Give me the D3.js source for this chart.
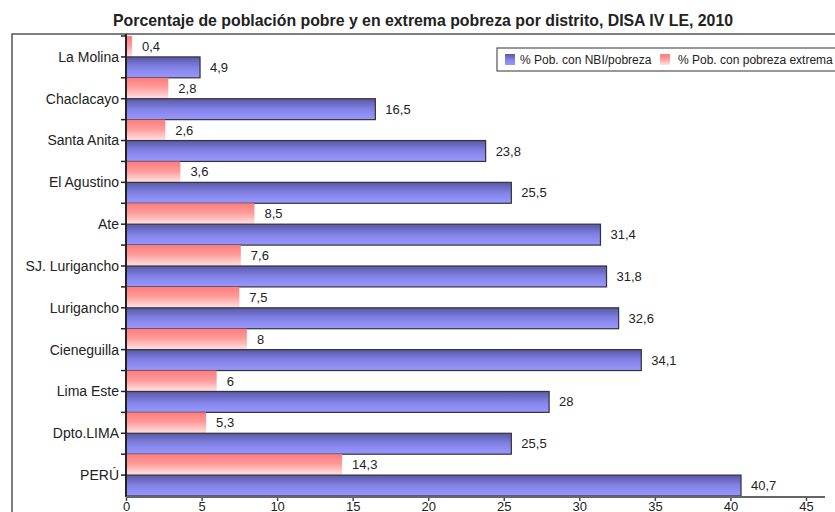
<!DOCTYPE html>
<html>
<head>
<meta charset="utf-8">
<script src="https://cdn.jsdelivr.net/npm/d3@7"></script>
<style>
  body { margin: 0; background: #fff; }
  svg { display: block; font-family: "Liberation Sans", Arial, sans-serif; }
</style>
</head>
<body>
<div id="chart"></div>
<script>
// Data
const districts = ["La Molina", "Chaclacayo", "Santa Anita", "El Agustino", "Ate", "SJ. Lurigancho",
  "Lurigancho", "Cieneguilla", "Lima Este", "Dpto.LIMA", "PERÚ"];
const pobreza = [4.9, 16.5, 23.8, 25.5, 31.4, 31.8, 32.6, 34.1, 28, 25.5, 40.7];
const extrema = [0.4, 2.8, 2.6, 3.6, 8.5, 7.6, 7.5, 8, 6, 5.3, 14.3];
const xTicks = [0, 5, 10, 15, 20, 25, 30, 35, 40, 45];
const seriesNames = ["% Pob. con NBI/pobreza", "% Pob. con pobreza extrema"];

const W = 835, H = 512;
const margin = { top: 36, right: 29, bottom: 16, left: 126 };

const svg = d3.select("#chart").append("svg")
  .attr("width", W).attr("height", H);

const defs = svg.append("defs");
const blueGrad = defs.append("linearGradient").attr("id", "gBlue")
  .attr("x1", 0).attr("y1", 0).attr("x2", 0).attr("y2", 1);
blueGrad.append("stop").attr("offset", "0%").attr("stop-color", "#5858a8");
blueGrad.append("stop").attr("offset", "50%").attr("stop-color", "#8282e6");
blueGrad.append("stop").attr("offset", "100%").attr("stop-color", "#9898ff");
const redGrad = defs.append("linearGradient").attr("id", "gRed")
  .attr("x1", 0).attr("y1", 0).attr("x2", 0).attr("y2", 1);
redGrad.append("stop").attr("offset", "0%").attr("stop-color", "#ff7c7c");
redGrad.append("stop").attr("offset", "45%").attr("stop-color", "#ff9a9a");
redGrad.append("stop").attr("offset", "100%").attr("stop-color", "#ffe4e4");

// Title (narrow bold look)
svg.append("text")
  .attr("x", 113).attr("y", 26)
  .attr("textLength", 620)
  .attr("lengthAdjust", "spacingAndGlyphs")
  .style("font-family", "'Liberation Sans', Arial, sans-serif")
  .style("font-weight", "bold")
  .style("font-size", "17px")
  .attr("fill", "#222")
  .text("Porcentaje de población pobre y en extrema pobreza por distrito, DISA IV LE, 2010");

// Outer frame (top + left visible)
svg.append("path")
  .attr("d", `M12,${H} V34 H${W}`)
  .attr("fill", "none").attr("stroke", "#555").attr("stroke-width", 1.5);

const x = d3.scaleLinear().domain([0, 45]).range([margin.left, 806]);
const y = d3.scaleBand().domain(districts).range([margin.top, 496]).padding(0);
const half = y.bandwidth() / 2;

const rows = svg.selectAll("g.row")
  .data(districts)
  .join("g")
  .attr("class", "row")
  .attr("transform", d => `translate(0, ${y(d)})`);

// extreme poverty bar (top half)
rows.append("rect")
  .attr("x", x(0))
  .attr("y", 0)
  .attr("width", (d, i) => x(extrema[i]) - x(0))
  .attr("height", half)
  .attr("fill", "url(#gRed)");

// poverty bar (bottom half)
rows.append("rect")
  .attr("x", x(0))
  .attr("y", half)
  .attr("width", (d, i) => x(pobreza[i]) - x(0))
  .attr("height", half)
  .attr("fill", "url(#gBlue)")
  .attr("stroke", "#333")
  .attr("stroke-width", 1.2);

const fmt = v => String(v).replace(".", ",");

rows.append("text")
  .attr("x", (d, i) => x(extrema[i]) + 10)
  .attr("y", half / 2)
  .attr("dy", "0.35em")
  .style("font-size", "13px")
  .attr("fill", "#222")
  .text((d, i) => fmt(extrema[i]));

rows.append("text")
  .attr("x", (d, i) => x(pobreza[i]) + 10)
  .attr("y", half * 1.5)
  .attr("dy", "0.35em")
  .style("font-size", "13px")
  .attr("fill", "#222")
  .text((d, i) => fmt(pobreza[i]));

// category labels
rows.append("text")
  .attr("x", margin.left - 7)
  .attr("y", half)
  .attr("dy", "0.35em")
  .attr("text-anchor", "end")
  .style("font-size", "14px")
  .attr("fill", "#222")
  .text(d => d);

// y axis line + ticks at every half band
const yAxisG = svg.append("g");
yAxisG.append("line")
  .attr("x1", x(0)).attr("x2", x(0))
  .attr("y1", 34).attr("y2", 497)
  .attr("stroke", "#222").attr("stroke-width", 2);
const halfTicks = [];
districts.forEach(d => { halfTicks.push(y(d)); halfTicks.push(y(d) + half); });
yAxisG.selectAll("line.tk")
  .data(halfTicks)
  .join("line")
  .attr("class", "tk")
  .attr("x1", x(0) - 5).attr("x2", x(0))
  .attr("y1", d => d).attr("y2", d => d)
  .attr("stroke", "#222").attr("stroke-width", 1.5);

// x axis
const xAxis = svg.append("g")
  .attr("transform", `translate(0, 497)`)
  .call(d3.axisBottom(x).tickValues(xTicks).tickSize(4).tickPadding(1));
xAxis.select(".domain").remove();
xAxis.append("line")
  .attr("x1", x(0)).attr("x2", 825)
  .attr("stroke", "#666").attr("stroke-width", 2);
xAxis.selectAll(".tick line").attr("stroke", "#444").attr("stroke-width", 1.5);
xAxis.selectAll(".tick text")
  .style("font-size", "13px")
  .style("font-family", "'Liberation Sans', Arial, sans-serif")
  .attr("fill", "#222");

// legend
const legend = svg.append("g").attr("transform", "translate(497, 48)");
legend.append("rect")
  .attr("width", 345).attr("height", 23)
  .attr("fill", "#fff").attr("stroke", "#333").attr("stroke-width", 1);
const legendItems = [
  { name: seriesNames[0], fill: "url(#gBlue)", x: 8, tx: 23 },
  { name: seriesNames[1], fill: "url(#gRed)", x: 163, tx: 181 }
];
legend.selectAll("rect.sw")
  .data(legendItems)
  .join("rect")
  .attr("class", "sw")
  .attr("x", d => d.x).attr("y", 6)
  .attr("width", 10).attr("height", 11)
  .attr("fill", d => d.fill);
legend.selectAll("text.lt")
  .data(legendItems)
  .join("text")
  .attr("class", "lt")
  .attr("x", d => d.tx).attr("y", 12)
  .attr("dy", "0.35em")
  .style("font-size", "12px")
  .attr("fill", "#222")
  .text(d => d.name);
</script>
</body>
</html>
